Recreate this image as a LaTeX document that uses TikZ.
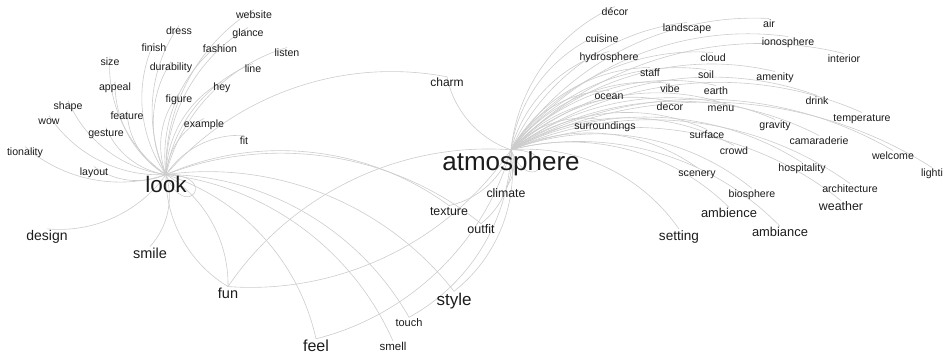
\documentclass[tikz,border=0pt]{standalone}
\usepackage{fontspec}
\setmainfont{Liberation Sans}
\usetikzlibrary{backgrounds}
\definecolor{linkcolor}{RGB}{204,204,204}
\definecolor{wordcolor}{RGB}{28,28,28}
\tikzset{
word/.style={
  font=\fontsize{#1}{#1}\selectfont,
  text=wordcolor,
  inner sep=0pt,
  text height=0.8*#1pt,
  text depth=0.2*#1pt
},
word/.default=10.6,
link/.style={
  draw=linkcolor,
  line width=0.6pt,
  bend left=30,
  looseness=0.91
},
selfloop/.style={
  draw=linkcolor,
  line width=0.6pt
}
}
\begin{document}
\begin{tikzpicture}[x=1pt, y=-1pt]
\useasboundingbox (0,0) rectangle (946,357);

% ============================================================================
% LOOK
% ============================================================================
\node[word=22.5] (look) at (166,186) {look};
\node[word] (website) at (254,15) {website};
\node[word] (dress) at (179,31) {dress};
\node[word] (glance) at (248,33) {glance};
\node[word] (finish) at (154,48) {finish};
\node[word] (fashion) at (220,49) {fashion};
\node[word] (listen) at (287,53) {listen};
\node[word] (size) at (110,62) {size};
\node[word] (durability) at (171,67) {durability};
\node[word] (line) at (253,69) {line};
\node[word] (appeal) at (115,87) {appeal};
\node[word] (hey) at (222,87) {hey};
\node[word] (figure) at (179,99) {figure};
\node[word] (shape) at (68,106) {shape};
\node[word] (feature) at (127,116) {feature};
\node[word] (wow) at (49,121) {wow};
\node[word] (example) at (204,124) {example};
\node[word] (gesture) at (106,133) {gesture};
\node[word] (fit) at (244,141) {fit};
\node[word] (tionality) at (25,152) {tionality};
\node[word] (layout) at (94,172) {layout};
\node[word=14] (design) at (47,236) {design};
\node[word=14.5] (smile) at (150,254) {smile};

% ============================================================================
% SHARED WORDS
% ============================================================================
\node[word=14.5] (fun) at (228,294) {fun};
\node[word=16] (feel) at (316,347) {feel};
\node[word=11.5] (smell) at (393,347) {smell};
\node[word=11] (touch) at (409,323) {touch};
\node[word=17] (style) at (454,300) {style};
\node[word=12.4] (texture) at (449,212) {texture};
\node[word=12.5] (outfit) at (481,230) {outfit};
\node[word=12.3] (climate) at (506,194) {climate};
\node[word=12] (charm) at (447,83) {charm};

% ============================================================================
% ATMOSPHERE
% ============================================================================
\node[word=26] (atmosphere) at (511,163) {atmosphere};
\node[word] (decoracc) at (615,12) {décor};
\node[word] (landscape) at (687,28) {landscape};
\node[word] (air) at (769,24) {air};
\node[word] (cuisine) at (602,39) {cuisine};
\node[word] (ionosphere) at (788,42) {ionosphere};
\node[word] (hydrosphere) at (609,57) {hydrosphere};
\node[word] (cloud) at (713,58) {cloud};
\node[word] (interior) at (844,59) {interior};
\node[word] (staff) at (650,73) {staff};
\node[word] (soil) at (706,75) {soil};
\node[word] (amenity) at (775,77) {amenity};
\node[word] (vibe) at (670,89) {vibe};
\node[word] (earth) at (716,91) {earth};
\node[word] (ocean) at (609,96) {ocean};
\node[word] (drink) at (817,101) {drink};
\node[word] (decor) at (670,107) {decor};
\node[word] (menu) at (721,108) {menu};
\node[word] (temperature) at (862,118) {temperature};
\node[word] (surroundings) at (605,126) {surroundings};
\node[word] (gravity) at (775,125) {gravity};
\node[word] (surface) at (707,135) {surface};
\node[word] (camaraderie) at (819,141) {camaraderie};
\node[word] (crowd) at (734,151) {crowd};
\node[word] (welcome) at (893,156) {welcome};
\node[word] (hospitality) at (802,168) {hospitality};
\node[word] (scenery) at (697,173) {scenery};
\node[word] (lighti) at (932,173) {lighti};
\node[word] (architecture) at (850,189) {architecture};
\node[word] (biosphere) at (752,194) {biosphere};
\node[word=12.4] (weather) at (841,207) {weather};
\node[word=12.9] (ambience) at (729,214) {ambience};
\node[word=12.9] (ambiance) at (780,233) {ambiance};
\node[word=13.6] (setting) at (679,236) {setting};

% ============================================================================
% LINKS
% ============================================================================
\begin{scope}[on background layer]
% look -> words
\draw[link] (look.north) to (website.north);
\draw[link] (look.north) to (dress.north);
\draw[link] (look.north) to (glance.north);
\draw[link] (look.north) to (finish.north);
\draw[link] (look.north) to (fashion.north);
\draw[link] (look.north) to (listen.north);
\draw[link] (look.north) to (size.north);
\draw[link] (look.north) to (durability.north);
\draw[link] (look.north) to (line.north);
\draw[link] (look.north) to (appeal.north);
\draw[link] (look.north) to (hey.north);
\draw[link] (look.north) to (figure.north);
\draw[link] (look.north) to (shape.north);
\draw[link] (look.north) to (feature.north);
\draw[link] (look.north) to (wow.north);
\draw[link] (look.north) to (example.north);
\draw[link] (look.north) to (gesture.north);
\draw[link] (look.north) to (fit.north);
\draw[link] (look.north) to (tionality.north);
\draw[link] (look.north) to (layout.north);
\draw[link] (look.north) to (design.north);
\draw[link] (look.north) to (smile.north);
\draw[link] (look.north) to (fun.north);
\draw[link] (look.north) to (feel.north);
\draw[link] (look.north) to (smell.north);
\draw[link] (look.north) to (touch.north);
\draw[link] (look.north) to (style.north);
\draw[link] (look.north) to (texture.north);
\draw[link] (look.north) to (outfit.north);
\draw[link] (look.north) to (charm.north);
\draw[selfloop] (look.north) .. controls +(55,0) and +(20,50) .. (look.north);

% fun -> hubs
\draw[link] (fun.north) to (look.north);
\draw[link] (fun.north) to (atmosphere.north);

% atmosphere -> words
\draw[link] (atmosphere.north) to (fun.north);
\draw[link] (atmosphere.north) to (feel.north);
\draw[link] (atmosphere.north) to (touch.north);
\draw[link] (atmosphere.north) to (style.north);
\draw[link] (atmosphere.north) to (texture.north);
\draw[link] (atmosphere.north) to (outfit.north);
\draw[link] (atmosphere.north) to (climate.north);
\draw[link] (atmosphere.north) to (charm.north);
\draw[link] (atmosphere.north) to (decoracc.north);
\draw[link] (atmosphere.north) to (landscape.north);
\draw[link] (atmosphere.north) to (air.north);
\draw[link] (atmosphere.north) to (cuisine.north);
\draw[link] (atmosphere.north) to (ionosphere.north);
\draw[link] (atmosphere.north) to (hydrosphere.north);
\draw[link] (atmosphere.north) to (cloud.north);
\draw[link] (atmosphere.north) to (interior.north);
\draw[link] (atmosphere.north) to (staff.north);
\draw[link] (atmosphere.north) to (soil.north);
\draw[link] (atmosphere.north) to (amenity.north);
\draw[link] (atmosphere.north) to (vibe.north);
\draw[link] (atmosphere.north) to (earth.north);
\draw[link] (atmosphere.north) to (ocean.north);
\draw[link] (atmosphere.north) to (drink.north);
\draw[link] (atmosphere.north) to (decor.north);
\draw[link] (atmosphere.north) to (menu.north);
\draw[link] (atmosphere.north) to (temperature.north);
\draw[link] (atmosphere.north) to (surroundings.north);
\draw[link] (atmosphere.north) to (gravity.north);
\draw[link] (atmosphere.north) to (surface.north);
\draw[link] (atmosphere.north) to (camaraderie.north);
\draw[link] (atmosphere.north) to (crowd.north);
\draw[link] (atmosphere.north) to (welcome.north);
\draw[link] (atmosphere.north) to (hospitality.north);
\draw[link] (atmosphere.north) to (scenery.north);
\draw[link] (atmosphere.north) to (lighti.north);
\draw[link] (atmosphere.north) to (architecture.north);
\draw[link] (atmosphere.north) to (biosphere.north);
\draw[link] (atmosphere.north) to (weather.north);
\draw[link] (atmosphere.north) to (ambience.north);
\draw[link] (atmosphere.north) to (ambiance.north);
\draw[link] (atmosphere.north) to (setting.north);
\draw[selfloop] (atmosphere.north) .. controls +(55,0) and +(20,50) .. (atmosphere.north);
\end{scope}

\end{tikzpicture}
\end{document}
